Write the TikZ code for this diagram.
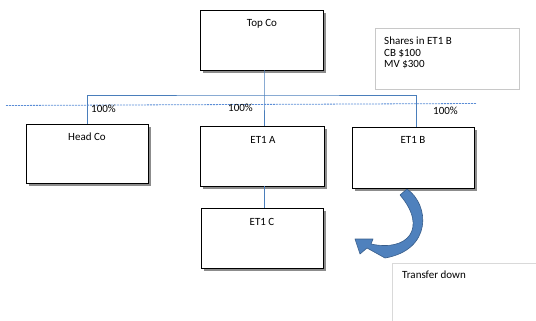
\documentclass[tikz,border=0pt]{standalone}
\usepackage{fontspec}
\setmainfont{Carlito}
\usetikzlibrary{shadows}
\definecolor{conn}{RGB}{74,126,187}
\definecolor{dashc}{RGB}{91,141,214}
\definecolor{arrfill}{RGB}{79,129,189}
\definecolor{arrline}{RGB}{56,93,138}
\definecolor{softgray}{RGB}{200,200,200}
\tikzset{
  orgbox/.style={draw=black, line width=0.8pt, fill=white, inner sep=0pt,
    drop shadow={shadow xshift=3pt, shadow yshift=-3pt, fill=black!45, opacity=1}},
  lbl/.style={font=\fontsize{11}{13}\selectfont, anchor=base, inner sep=0pt},
  lbll/.style={font=\fontsize{11}{13}\selectfont, anchor=base west, inner sep=0pt},
  connector/.style={draw=conn, line width=0.8pt},
  notebox/.style={draw=softgray, line width=0.8pt, fill=white, inner sep=0pt},
}
\begin{document}
\begin{tikzpicture}[x=1pt,y=-1pt]
\useasboundingbox (0,0) rectangle (536,321);
% boxes
\node[orgbox, minimum width=123pt, minimum height=60pt] (top) at (261.5,40) {};
\node[orgbox, minimum width=122pt, minimum height=59pt] (head) at (87,153.5) {};
\node[orgbox, minimum width=124pt, minimum height=60pt] (eta) at (262,156) {};
\node[orgbox, minimum width=122pt, minimum height=61pt] (etb) at (413,157.5) {};
\node[orgbox, minimum width=122pt, minimum height=60pt] (etc) at (262,238) {};
\node[notebox, minimum width=144pt, minimum height=61pt] (shares) at (447,58.5) {};
\node[notebox, draw=softgray!70, minimum width=160pt, minimum height=80pt, anchor=north west] (transfer) at (392,263) {};
% labels
\node[lbl] (ltop) at (262,27) {Top Co};
\node[lbl] (lhead) at (87,140.7) {Head Co};
\node[lbl] (leta) at (263,143) {ET1 A};
\node[lbl] (letb) at (413,143.5) {ET1 B};
\node[lbl] (letc) at (262,225.5) {ET1 C};
\node[lbll] (s1) at (384,45) {Shares in ET1 B};
\node[lbll] (s2) at (384,56.5) {CB \$100};
\node[lbll] (s3) at (384,67.8) {MV \$300};
\node[lbll] (ltr) at (402,278.5) {Transfer down};
% connectors
\coordinate (bus) at (264,95);
\draw[connector] (head.north) |- (bus) -| (etb.north -| 416,0);
\draw[connector] (top.south -| bus) -- (bus) -- (eta.north -| bus);
\draw[connector] (eta.south -| bus) -- (etc.north -| bus);
% dashed line
\coordinate (dl) at (6,105.5);
\coordinate (dr) at (476,103.5);
\draw[dashc, line width=0.8pt, dash pattern=on 2pt off 1pt] (dl) -- (dr);
% percentages
\node[lbll] (p1) at (91,112.7) {100\%};
\node[lbll] (p2) at (228,112) {100\%};
\node[lbll] (p3) at (433,114) {100\%};
% curved arrow
\filldraw[fill=arrfill, draw=arrline, line width=0.6pt, line join=round]
  (407,189) .. controls (430,205) and (432,250) .. (385,258)
  -- (367,248) -- (360,254) -- (355,239) -- (373,239) -- (371,244)
  .. controls (408,252) and (428,228) .. (400,195) -- cycle;
\end{tikzpicture}
\end{document}
